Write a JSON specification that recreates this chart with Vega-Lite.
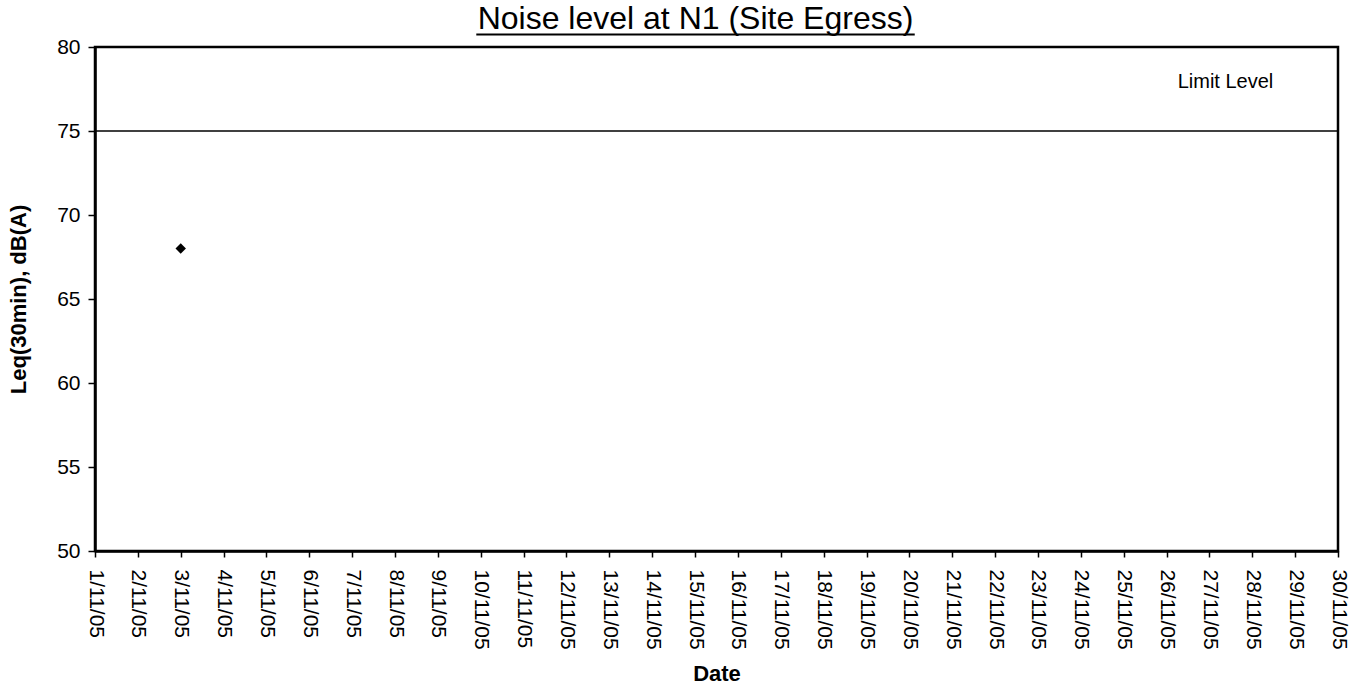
{
  "$schema": "https://vega.github.io/schema/vega-lite/v6.json",
  "width": 1243,
  "height": 504,
  "autosize": {"type": "none"},
  "padding": {"left": 95, "top": 47, "right": 27, "bottom": 146},
  "background": "white",
  "config": {
    "font": "Liberation Sans",
    "view": {"stroke": "black", "strokeWidth": 2.5},
    "axis": {
      "domainColor": "black",
      "domainWidth": 2.5,
      "tickColor": "black",
      "labelColor": "black",
      "titleColor": "black",
      "grid": false
    }
  },
  "title": {
    "text": "Noise level at N1  (Site Egress)",
    "fontSize": 32,
    "fontWeight": "normal",
    "font": "Liberation Sans",
    "color": "black",
    "frame": "group",
    "anchor": "middle",
    "baseline": "bottom",
    "offset": -35,
    "dx": -21
  },
  "layer": [
    {
      "data": {"values": [{"date": "2005-11-03", "leq": 68}]},
      "mark": {"type": "point", "shape": "diamond", "filled": true, "color": "black", "size": 110, "opacity": 1},
      "encoding": {
        "x": {
          "field": "date",
          "type": "temporal",
          "scale": {
            "type": "utc",
            "nice": false,
            "domain": [
              {"year": 2005, "month": 11, "date": 1, "utc": true},
              {"year": 2005, "month": 11, "date": 30, "utc": true}
            ]
          },
          "axis": {
            "title": "Date",
            "titleFontSize": 22,
            "titleFontWeight": "bold",
            "titlePadding": 14,
            "format": "%-d/%m/%y",
            "tickCount": {"interval": "day", "step": 1},
            "labelAngle": 90,
            "labelFontSize": 21,
            "labelOverlap": false,
            "labelFlush": false,
            "labelBound": false,
            "tickSize": 6,
            "tickWidth": 1.5,
            "labelPadding": 12
          }
        },
        "y": {
          "field": "leq",
          "type": "quantitative",
          "scale": {"domain": [50, 80], "nice": false, "zero": false},
          "axis": {
            "title": "Leq(30min), dB(A)",
            "titleFontSize": 22,
            "titleFontWeight": "bold",
            "titlePadding": 26,
            "values": [50, 55, 60, 65, 70, 75, 80],
            "labelFontSize": 21,
            "tickSize": 7,
            "tickWidth": 1.5,
            "labelPadding": 8
          }
        }
      }
    },
    {
      "data": {"values": [{"limit": 75}]},
      "mark": {"type": "rule", "color": "black", "strokeWidth": 1.5},
      "encoding": {
        "y": {"field": "limit", "type": "quantitative", "scale": {"domain": [50, 80], "nice": false, "zero": false}}
      }
    },
    {
      "data": {"values": [{"date": "2005-11-27T09:00:00Z", "level": 77.9, "label": "Limit Level"}]},
      "mark": {"type": "text", "fontSize": 20, "color": "black", "align": "center", "baseline": "middle"},
      "encoding": {
        "x": {"field": "date", "type": "temporal", "scale": {"type": "utc", "nice": false, "domain": [{"year": 2005, "month": 11, "date": 1, "utc": true}, {"year": 2005, "month": 11, "date": 30, "utc": true}]}},
        "y": {"field": "level", "type": "quantitative", "scale": {"domain": [50, 80], "nice": false, "zero": false}},
        "text": {"field": "label"}
      }
    },
    {
      "data": {"values": [{"start": "2005-11-09T21:30:00Z", "end": "2005-11-20T03:00:00Z", "uy": 80.75}]},
      "mark": {"type": "rule", "color": "black", "strokeWidth": 2},
      "encoding": {
        "x": {"field": "start", "type": "temporal", "scale": {"type": "utc", "nice": false, "domain": [{"year": 2005, "month": 11, "date": 1, "utc": true}, {"year": 2005, "month": 11, "date": 30, "utc": true}]}},
        "x2": {"field": "end"},
        "y": {"field": "uy", "type": "quantitative", "scale": {"domain": [50, 80], "nice": false, "zero": false}}
      }
    }
  ]
}
